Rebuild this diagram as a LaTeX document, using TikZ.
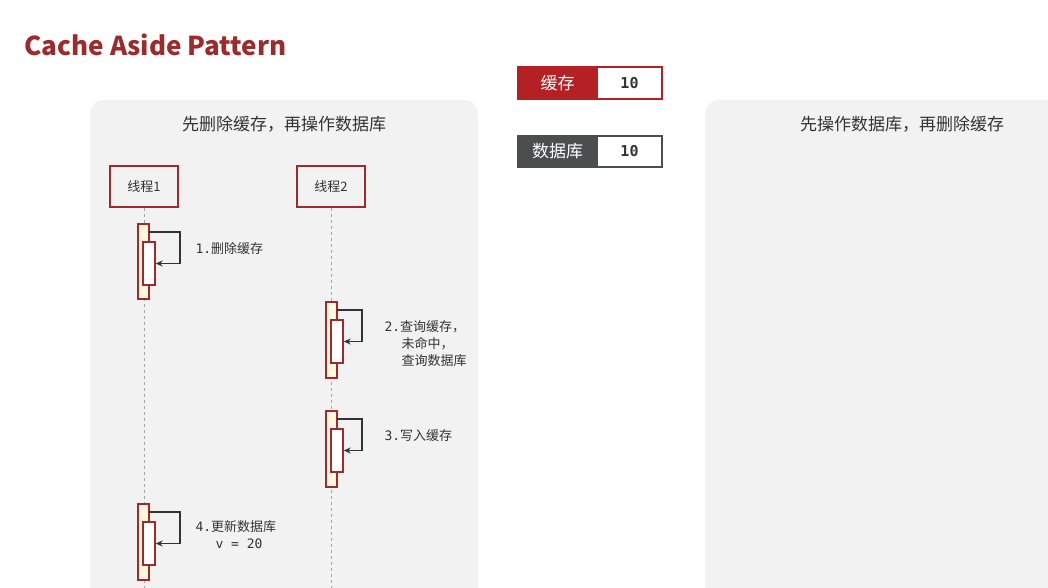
\documentclass[tikz,border=0pt]{standalone}
\usepackage{fontspec}
\setmainfont{Noto Sans CJK SC}
\newfontfamily\monof{DejaVu Sans Mono}
\usetikzlibrary{arrows.meta}
\definecolor{panel}{HTML}{F2F2F2}
\definecolor{dred}{HTML}{9E2A2B}
\definecolor{bred}{HTML}{B52025}
\definecolor{bdark}{HTML}{4A4E4E}
\definecolor{actfill}{HTML}{FFF8DC}
\definecolor{txt}{HTML}{333333}
\tikzset{
  pnl/.style={fill=panel,draw=none,rounded corners=14pt},
  thr/.style={draw=dred,line width=1.5pt,fill=panel,minimum width=68pt,minimum height=41pt,font=\fontsize{13}{15}\selectfont,text=txt},
  life/.style={draw=gray!70,dashed,line width=0.8pt},
  outer/.style={draw=dred,line width=1.4pt,fill=actfill},
  inner/.style={draw=dred,line width=1.4pt,fill=white},
  loopa/.style={draw=txt,line width=1.3pt,-{Stealth[length=7pt,width=6pt]}},
  lbl/.style={font=\fontsize{13}{17}\selectfont,text=txt,anchor=north west,align=left},
}
\begin{document}
\begin{tikzpicture}[x=1pt,y=-1pt]
\useasboundingbox (0,0) rectangle (1048,588);
\fill[white] (0,0) rectangle (1048,588);
\path[pnl] (90,100) rectangle (478,610);
\path[pnl] (705,100) rectangle (1070,610);
\node[anchor=west,text=dred,font=\fontsize{26}{30}\selectfont\bfseries] (title) at (21,45) {Cache Aside Pattern};
\node[font=\fontsize{17}{20}\selectfont,text=txt] (t1) at (284,124) {先删除缓存，再操作数据库};
\node[font=\fontsize{17}{20}\selectfont,text=txt] (t2) at (902,124) {先操作数据库，再删除缓存};
% cache / db
\node[draw=bred,fill=bred,line width=1.5pt,minimum width=79pt,minimum height=32pt,text=white,font=\fontsize{17}{18}\selectfont] (cl) at (557.5,83) {缓存};
\node[draw=bred,fill=white,line width=1.5pt,minimum width=65pt,minimum height=32pt,font=\monof\bfseries\fontsize{15}{18}\selectfont,text=txt] (cv) at (629.5,83) {10};
\node[draw=bdark,fill=bdark,line width=1.5pt,minimum width=79pt,minimum height=31pt,text=white,font=\fontsize{17}{18}\selectfont] (dl) at (557.5,151.5) {数据库};
\node[draw=bdark,fill=white,line width=1.5pt,minimum width=65pt,minimum height=31pt,font=\monof\bfseries\fontsize{15}{18}\selectfont,text=txt] (dv) at (629.5,151.5) {10};
% threads
\node[thr] (th1) at (144,186.5) {线程1};
\node[thr] (th2) at (331,186.5) {线程2};
\coordinate (e1) at (144,588);
\coordinate (e2) at (331,588);
\draw[life] (th1) -- (e1);
\draw[life] (th2) -- (e2);
% thread1 step1
\draw[outer] (138,224) rectangle (149,299);
\node[inner,minimum width=12pt,minimum height=43pt,inner sep=0] (a1) at (149,263.5) {};
\coordinate (s1) at (149,232);
\draw[loopa] (s1) -- ++(31,0) |- (a1.east);
\node[lbl] (l1) at (192,239) {{\monof 1.}删除缓存};
% thread2 step2
\draw[outer] (326,302) rectangle (337,378);
\node[inner,minimum width=12pt,minimum height=43pt,inner sep=0] (a2) at (337,341.5) {};
\coordinate (s2) at (337,310);
\draw[loopa] (s2) -- ++(25,0) |- (a2.east);
\node[lbl] (l2) at (381,317) {{\monof 2.}查询缓存，\\\hspace*{17pt}未命中，\\\hspace*{17pt}查询数据库};
% thread2 step3
\draw[outer] (326,411) rectangle (337,487);
\node[inner,minimum width=12pt,minimum height=43pt,inner sep=0] (a3) at (337,450.5) {};
\coordinate (s3) at (337,419);
\draw[loopa] (s3) -- ++(25,0) |- (a3.east);
\node[lbl] (l3) at (381,426) {{\monof 3.}写入缓存};
% thread1 step4
\draw[outer] (138,504) rectangle (149,580);
\node[inner,minimum width=12pt,minimum height=43pt,inner sep=0] (a4) at (149,543.5) {};
\coordinate (s4) at (149,512);
\draw[loopa] (s4) -- ++(31,0) |- (a4.east);
\node[lbl] (l4) at (192,517) {{\monof 4.}更新数据库\\\hspace*{20pt}{\monof v = 20}};
\end{tikzpicture}
\end{document}
